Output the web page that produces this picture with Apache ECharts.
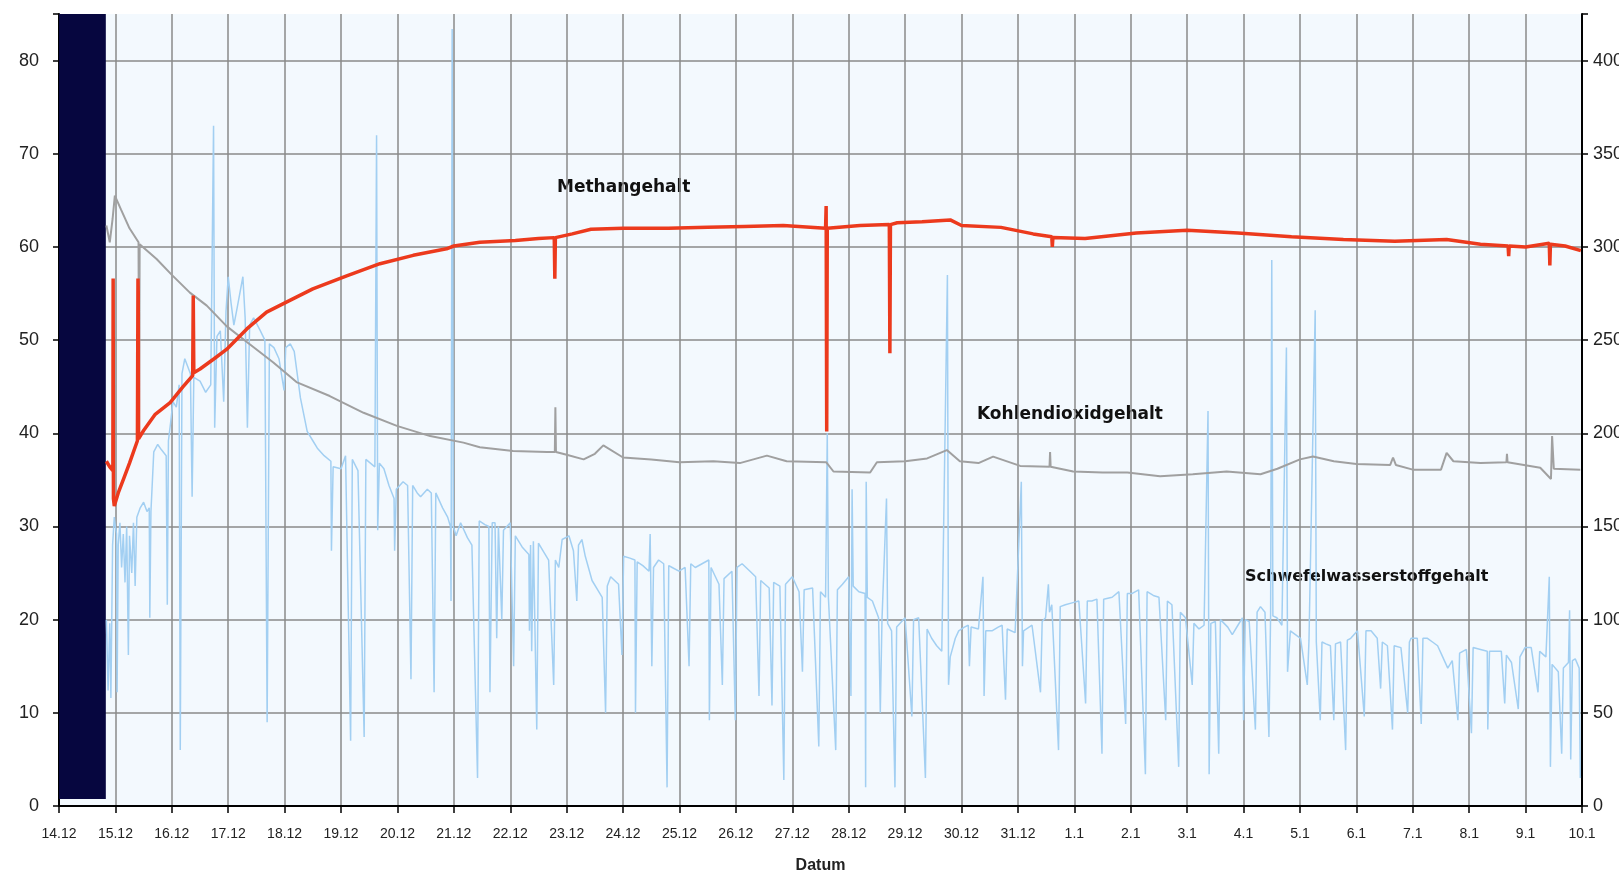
<!DOCTYPE html>
<html>
<head>
<meta charset="utf-8">
<title>Gasgehalt</title>
<script src="https://cdn.jsdelivr.net/npm/echarts@6/dist/echarts.min.js"></script>
<style>
  html, body { margin: 0; padding: 0; background: #fff; }
  #chart { width: 1619px; height: 875px; }
</style>
</head>
<body>
<div id="chart"></div>
<script>
// x = Tage ab 14.12 (0 = 14.12, 27 = 10.1)
var dayLabels = ['14.12','15.12','16.12','17.12','18.12','19.12','20.12','21.12','22.12','23.12',
  '24.12','25.12','26.12','27.12','28.12','29.12','30.12','31.12','1.1','2.1','3.1','4.1',
  '5.1','6.1','7.1','8.1','9.1','10.1'];

// dunkler Balken am Anfang (keine Messung): von Tag / bis Tag / untere Kante
var gapFrom = 0, gapTo = 0.83, gapBottom = 0.75, gapTop = 85;

// Methangehalt (%), linke Achse
var methanData = [
  [0.84,37.0],[0.9,36.4],[0.955,36.0],[0.96,56.6],[0.965,33.0],[0.98,32.2],[1.05,33.6],[1.15,35.2],
  [1.25,36.8],[1.39,39.2],[1.40,56.6],[1.405,55.0],[1.41,39.4],[1.5,40.3],[1.7,42.0],[1.97,43.3],
  [2.2,45.0],[2.37,46.2],[2.38,54.8],[2.39,46.5],[2.5,46.9],[2.75,48.0],[2.97,49.0],[3.33,51.2],
  [3.68,53.0],[4.04,54.1],[4.5,55.5],[5.1,56.9],[5.69,58.2],[6.28,59.1],[6.87,59.8],[7.0,60.1],
  [7.46,60.5],[8.09,60.7],[8.5,60.9],[8.78,61.0],[8.79,56.6],[8.8,61.0],[9.1,61.4],[9.43,61.9],
  [10.0,62.0],[10.8,62.0],[11.5,62.1],[12.15,62.2],[12.84,62.3],[13.59,62.0],[13.6,64.4],
  [13.61,40.2],[13.62,62.0],[14.2,62.3],[14.72,62.4],[14.73,48.6],[14.74,62.4],[14.86,62.6],
  [15.3,62.7],[15.8,62.9],[16.0,62.3],[16.7,62.1],[17.27,61.4],[17.6,61.1],[17.61,60.0],
  [17.62,61.0],[18.19,60.9],[19.1,61.5],[20.0,61.8],[20.9,61.5],[21.85,61.1],[22.77,60.8],
  [23.68,60.6],[24.6,60.8],[25.2,60.3],[25.69,60.1],[25.7,59.0],[25.71,60.1],[26.0,60.0],
  [26.42,60.4],[26.43,58.0],[26.44,60.3],[26.7,60.1],[26.98,59.6]
];

// Kohlendioxidgehalt (%), linke Achse
var co2Data = [
  [0.84,62.3],[0.9,60.5],[0.95,63.0],[0.99,65.5],[1.1,64.0],[1.25,62.0],[1.41,60.5],[1.42,40.0],
  [1.43,60.3],[1.73,58.7],[2.0,57.0],[2.32,55.1],[2.62,53.7],[2.97,51.5],[3.33,49.8],[3.8,47.6],
  [4.21,45.5],[4.8,44.0],[5.4,42.2],[5.99,40.8],[6.58,39.7],[7.17,39.0],[7.46,38.5],[8.05,38.1],
  [8.65,38.0],[8.79,38.0],[8.8,42.8],[8.81,38.0],[9.0,37.7],[9.3,37.2],[9.5,37.8],[9.65,38.7],
  [10.0,37.4],[10.5,37.2],[11.0,36.9],[11.6,37.0],[12.07,36.8],[12.55,37.6],[12.9,37.0],
  [13.6,36.9],[13.73,35.9],[14.38,35.8],[14.5,36.9],[15.0,37.0],[15.39,37.3],[15.74,38.2],
  [15.97,37.0],[16.3,36.8],[16.56,37.5],[17.04,36.5],[17.56,36.4],[17.57,38.0],[17.58,36.4],
  [17.98,35.9],[18.5,35.8],[18.94,35.8],[19.52,35.4],[20.1,35.6],[20.7,35.9],[21.3,35.6],
  [21.6,36.2],[22.0,37.2],[22.23,37.5],[22.6,37.0],[23.0,36.7],[23.6,36.6],[23.65,37.4],
  [23.7,36.6],[24.0,36.1],[24.5,36.1],[24.6,37.9],[24.72,37.0],[25.2,36.8],[25.66,36.9],
  [25.67,37.8],[25.68,36.9],[26.26,36.3],[26.45,35.1],[26.47,39.7],[26.5,36.2],[26.97,36.1]
];

// Schwefelwasserstoffgehalt (ppm), rechte Achse
var h2sData = [
  [0.84,100],[0.87,62],[0.9,98],[0.92,58],[0.95,140],[0.98,155],[1.0,150],[1.02,146],[1.03,61],
  [1.05,140],[1.08,152],[1.11,128],[1.14,146],[1.17,120],[1.2,150],[1.23,81],[1.25,145],
  [1.29,125],[1.32,152],[1.35,118],[1.38,155],[1.44,160],[1.5,163],[1.56,158],[1.6,160],
  [1.61,101],[1.63,158],[1.68,190],[1.75,194],[1.82,191],[1.9,188],[1.92,108],[1.94,196],
  [1.98,206],[2.02,217],[2.08,214],[2.13,226],[2.15,30],[2.18,232],[2.23,240],[2.28,236],
  [2.33,232],[2.36,166],[2.39,230],[2.5,228],[2.6,222],[2.69,226],[2.74,365],[2.76,203],
  [2.8,252],[2.86,255],[2.92,217],[2.96,265],[3.0,284],[3.05,270],[3.1,258],[3.15,266],
  [3.26,284],[3.3,262],[3.34,203],[3.38,258],[3.45,262],[3.57,255],[3.65,250],[3.69,45],
  [3.73,248],[3.81,246],[3.9,240],[3.99,223],[4.02,246],[4.1,248],[4.17,244],[4.28,219],
  [4.4,201],[4.5,196],[4.58,192],[4.7,188],[4.82,185],[4.83,137],[4.86,182],[5.0,181],
  [5.08,188],[5.17,35],[5.2,186],[5.3,180],[5.41,37],[5.44,186],[5.52,184],[5.6,182],
  [5.63,360],[5.65,148],[5.68,184],[5.76,181],[5.85,172],[5.94,165],[5.95,137],[5.98,170],
  [6.1,174],[6.18,172],[6.24,68],[6.27,172],[6.35,168],[6.41,166],[6.53,170],[6.6,168],
  [6.65,61],[6.68,168],[6.8,160],[6.89,155],[6.94,150],[6.95,110],[6.97,417],[6.99,150],
  [7.04,145],[7.12,152],[7.24,144],[7.32,140],[7.42,15],[7.45,153],[7.55,151],[7.62,150],
  [7.64,61],[7.68,152],[7.73,152],[7.76,90],[7.79,150],[7.85,100],[7.88,148],[8.0,152],
  [8.06,75],[8.09,145],[8.21,139],[8.33,135],[8.34,94],[8.36,140],[8.38,83],[8.41,142],
  [8.47,41],[8.5,141],[8.6,136],[8.68,132],[8.77,65],[8.8,132],[8.86,128],[8.92,143],
  [9.04,145],[9.12,137],[9.18,110],[9.21,140],[9.27,143],[9.33,134],[9.45,121],[9.55,116],
  [9.63,112],[9.69,50],[9.72,118],[9.78,123],[9.92,119],[9.98,81],[10.01,134],[10.12,133],
  [10.21,132],[10.22,50],[10.25,131],[10.35,129],[10.46,126],[10.48,146],[10.51,75],
  [10.54,128],[10.63,132],[10.72,130],[10.78,10],[10.81,129],[10.87,128],[10.99,126],
  [11.1,128],[11.17,75],[11.2,130],[11.28,128],[11.4,130],[11.52,132],[11.53,46],[11.56,128],
  [11.7,119],[11.76,65],[11.79,122],[11.93,126],[11.99,46],[12.02,128],[12.11,130],[12.25,126],
  [12.35,123],[12.41,59],[12.44,121],[12.59,117],[12.64,54],[12.67,120],[12.78,118],[12.85,14],
  [12.88,119],[13.0,123],[13.12,115],[13.18,72],[13.21,116],[13.36,117],[13.47,32],[13.5,115],
  [13.59,112],[13.62,200],[13.64,112],[13.77,30],[13.8,116],[13.89,119],[14.0,123],[14.04,59],
  [14.06,170],[14.08,118],[14.18,115],[14.29,114],[14.3,10],[14.31,174],[14.33,112],[14.42,110],
  [14.53,101],[14.56,50],[14.59,100],[14.67,165],[14.69,98],[14.76,94],[14.82,10],[14.85,96],
  [15.0,101],[15.12,48],[15.15,100],[15.24,101],[15.36,15],[15.39,95],[15.47,90],[15.56,86],
  [15.65,83],[15.75,285],[15.77,65],[15.8,80],[15.89,90],[15.95,94],[16.05,96],[16.12,97],
  [16.14,75],[16.17,96],[16.3,95],[16.38,123],[16.4,59],[16.43,94],[16.54,94],[16.65,96],
  [16.72,97],[16.78,57],[16.81,95],[16.95,93],[17.06,174],[17.08,75],[17.1,94],[17.25,97],
  [17.4,61],[17.43,99],[17.49,101],[17.54,119],[17.56,104],[17.6,108],[17.72,30],[17.75,107],
  [17.84,108],[17.96,109],[18.08,110],[18.2,55],[18.23,110],[18.31,110],[18.4,111],[18.49,28],
  [18.52,111],[18.67,112],[18.79,115],[18.91,44],[18.94,114],[19.02,114],[19.14,116],[19.26,17],
  [19.29,115],[19.4,113],[19.5,112],[19.62,46],[19.65,110],[19.73,108],[19.85,21],[19.88,104],
  [19.97,101],[20.09,65],[20.12,98],[20.21,95],[20.3,97],[20.37,212],[20.39,17],[20.42,98],
  [20.5,99],[20.56,28],[20.59,100],[20.62,101],[20.72,96],[20.8,92],[20.9,97],[20.98,101],
  [21.0,46],[21.03,100],[21.1,99],[21.21,41],[21.24,104],[21.3,107],[21.38,104],[21.45,37],
  [21.48,104],[21.5,293],[21.52,102],[21.59,101],[21.68,97],[21.76,246],[21.78,72],[21.83,94],
  [21.92,92],[22.01,90],[22.13,65],[22.16,89],[22.27,266],[22.29,88],[22.31,88],[22.36,46],
  [22.39,88],[22.46,87],[22.54,86],[22.6,46],[22.63,87],[22.72,88],[22.81,30],[22.84,89],
  [22.9,90],[23.02,94],[23.14,48],[23.17,94],[23.26,94],[23.37,90],[23.43,63],[23.46,88],
  [23.55,86],[23.64,41],[23.67,86],[23.79,85],[23.91,50],[23.94,88],[23.97,90],[24.08,90],
  [24.15,44],[24.18,90],[24.26,90],[24.35,88],[24.44,86],[24.53,80],[24.62,74],[24.7,78],
  [24.8,46],[24.83,82],[24.86,83],[24.95,84],[25.04,39],[25.07,85],[25.1,85],[25.2,84],
  [25.32,83],[25.33,41],[25.36,83],[25.46,83],[25.57,83],[25.63,55],[25.66,81],[25.75,77],
  [25.87,52],[25.9,80],[25.99,85],[26.1,85],[26.22,61],[26.25,83],[26.28,83],[26.36,80],
  [26.42,123],[26.44,21],[26.47,76],[26.58,72],[26.64,28],[26.67,74],[26.76,77],[26.78,105],
  [26.8,25],[26.83,78],[26.88,79],[26.95,74],[26.97,15]
];

var myChart = echarts.init(document.getElementById('chart'));

var gridColor = '#8a8a8a';
var labelFont = 'Liberation Sans, Arial, sans-serif';
var noteFont = 'DejaVu Sans, sans-serif';

var option = {
  animation: false,
  backgroundColor: '#ffffff',
  grid: {
    left: 59, right: 37, top: 14, bottom: 69,
    outerBoundsMode: 'none',
    containLabel: false,
    show: true, backgroundColor: '#f3f9fe', borderWidth: 0
  },
  xAxis: {
    type: 'value',
    min: 0, max: 27, interval: 1,
    name: 'Datum',
    nameLocation: 'middle',
    nameGap: 52,
    nameTextStyle: { fontFamily: labelFont, fontWeight: 'bold', fontSize: 16, color: '#222' },
    axisLine: { show: true, onZero: false, lineStyle: { color: '#000', width: 2 } },
    axisTick: { show: true, length: 7, lineStyle: { color: '#000', width: 1.5 } },
    axisLabel: {
      margin: 21, fontSize: 14, color: '#222', fontFamily: labelFont,
      formatter: function (v) { return dayLabels[Math.round(v)] || ''; }
    },
    splitLine: { show: true, lineStyle: { color: gridColor, width: 1.5 } }
  },
  yAxis: [
    {
      type: 'value',
      position: 'left',
      min: 0, max: 85, interval: 10,
      axisLine: { show: true, lineStyle: { color: '#000', width: 2 } },
      axisTick: { show: true, length: 6, lineStyle: { color: '#000', width: 1.5 } },
      axisLabel: {
        margin: 20, fontSize: 18, color: '#222', fontFamily: labelFont,
        formatter: function (v) { return v % 10 === 0 ? String(v) : ''; }
      },
      splitLine: { show: true, showMaxLine: false, lineStyle: { color: gridColor, width: 1.5 } }
    },
    {
      type: 'value',
      position: 'right',
      min: 0, max: 425, interval: 50,
      axisLine: { show: true, lineStyle: { color: '#000', width: 2 } },
      axisTick: { show: true, length: 6, lineStyle: { color: '#000', width: 1.5 } },
      axisLabel: {
        margin: 11, fontSize: 18, color: '#222', fontFamily: labelFont,
        formatter: function (v) { return v % 50 === 0 ? String(v) : ''; }
      },
      splitLine: { show: false }
    }
  ],
  series: [
    {
      name: 'Schwefelwasserstoffgehalt',
      type: 'line',
      yAxisIndex: 1,
      data: h2sData,
      symbol: 'none',
      lineStyle: { color: '#a2cff2', width: 1.5 },
      markArea: {
        silent: true,
        itemStyle: { color: '#06063f', opacity: 1 },
        data: [[{ coord: [gapFrom, gapBottom * 5] }, { coord: [gapTo, gapTop * 5] }]]
      }
    },
    {
      name: 'Kohlendioxidgehalt',
      type: 'line',
      data: co2Data,
      symbol: 'none',
      lineStyle: { color: '#a0a0a0', width: 2 }
    },
    {
      name: 'Methangehalt',
      type: 'line',
      data: methanData,
      symbol: 'none',
      lineStyle: { color: '#ec3a1d', width: 3.5 }
    }
  ],
  graphic: [
    { type: 'text', left: 557, top: 179,
      style: { text: 'Methangehalt', font: 'bold 17px ' + noteFont, fill: '#111' } },
    { type: 'text', left: 977, top: 406,
      style: { text: 'Kohlendioxidgehalt', font: 'bold 17px ' + noteFont, fill: '#111' } },
    { type: 'text', left: 1245, top: 569,
      style: { text: 'Schwefelwasserstoffgehalt', font: 'bold 16px ' + noteFont, fill: '#111' } }
  ]
};

myChart.setOption(option);
</script>
</body>
</html>
